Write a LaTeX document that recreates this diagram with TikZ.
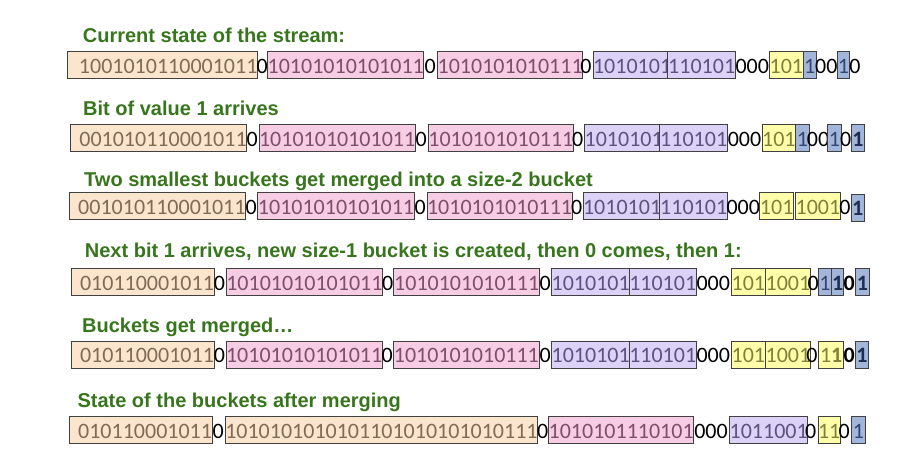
\documentclass[tikz,border=0pt]{standalone}
\usepackage{fontspec}
\newfontfamily\dgt{Carlito}
\newfontfamily\ttlf{Liberation Sans}
\definecolor{tanF}{HTML}{FCE5CD}
\definecolor{tanT}{HTML}{7F6B57}
\definecolor{pinkF}{HTML}{F7CDE4}
\definecolor{pinkT}{HTML}{7E4E6B}
\definecolor{purpF}{HTML}{DCD2F8}
\definecolor{purpT}{HTML}{5E5280}
\definecolor{yelF}{HTML}{FFFFAA}
\definecolor{yelT}{HTML}{80803A}
\definecolor{bluF}{HTML}{A2B5DB}
\definecolor{bluT}{HTML}{34466E}
\definecolor{bluD}{HTML}{1F2E4F}
\definecolor{ttlG}{HTML}{38761D}
\begin{document}
\begin{tikzpicture}[x=1pt,y=-1pt,
  bx/.style={draw=black!75, line width=0.75pt, minimum height=27pt, inner sep=0pt, anchor=west,
    font=\dgt\fontsize{22}{26}\selectfont, text height=16.5pt, text depth=0pt},
  tanb/.style={bx, fill=tanF, text=tanT},
  pinkb/.style={bx, fill=pinkF, text=pinkT},
  purpb/.style={bx, fill=purpF, text=purpT},
  yelb/.style={bx, fill=yelF, text=yelT},
  blub/.style={bx, fill=bluF, text=bluT},
  blubd/.style={bx, fill=bluF, text=bluD, font=\dgt\bfseries\fontsize{22}{26}\selectfont},
  sp/.style={inner sep=0pt, font=\dgt\fontsize{22}{26}\selectfont, text height=16.5pt, text depth=0pt, text=black},
  spb/.style={sp, font=\dgt\bfseries\fontsize{22}{26}\selectfont},
  ttl/.style={anchor=base west, inner sep=0pt, font=\ttlf\bfseries\fontsize{20}{24}\selectfont, text=ttlG}
]
\useasboundingbox[fill=white] (0,0) rectangle (916,468);

% ---------- Row 1
\node[ttl] (t1) at (82.7,43) {Current state of the stream:};
\node[tanb, minimum width=190pt] (r1a) at (67.3,65) {\hspace*{11pt}1001010110001011};
\node[sp] (r1s1) at (262.3,65) {0};
\node[pinkb, minimum width=156pt] (r1b) at (267.3,65) {10101010101011};
\node[sp] (r1s2) at (430.3,65) {0};
\node[pinkb, minimum width=142pt] (r1c) at (437.3,65) {1010101010111};
\node[sp] (r1s3) at (586,65) {0};
\node[purpb, minimum width=74.6pt] (r1d) at (592.7,65) {1010101};
\node[purpb, minimum width=68pt] (r1e) at (667.3,65) {110101};
\node[sp] (r1s4) at (752.3,65) {000};
\node[yelb, minimum width=33.4pt] (r1f) at (769.3,65) {101};
\node[blub, minimum width=13.3pt] (r1g) at (802.7,65) {1};
\node[sp] (r1s5) at (826.3,65) {00};
\node[blub, minimum width=12.6pt] (r1h) at (836.7,65) {1};
\node[sp] (r1s6) at (855,65) {0};

% ---------- Row 2
\node[ttl] (t2) at (83,116) {Bit of value 1 arrives};
\node[tanb, minimum width=176pt] (r2a) at (70,138) {\hspace*{9pt}001010110001011};
\node[sp] (r2s1) at (252.3,138) {0};
\node[pinkb, minimum width=156pt] (r2b) at (258.7,138) {10101010101011};
\node[sp] (r2s2) at (421.3,138) {0};
\node[pinkb, minimum width=143pt] (r2c) at (428,138) {1010101010111};
\node[sp] (r2s3) at (577.7,138) {0};
\node[purpb, minimum width=75pt] (r2d) at (584.3,138) {1010101};
\node[purpb, minimum width=68pt] (r2e) at (659.3,138) {110101};
\node[sp] (r2s4) at (744.5,138) {000};
\node[yelb, minimum width=33.6pt] (r2f) at (761.7,138) {101};
\node[blub, minimum width=13.4pt] (r2g) at (795.3,138) {1};
\node[sp] (r2s5) at (818,138) {00};
\node[blub, minimum width=13.4pt] (r2h) at (827.3,138) {1};
\node[sp] (r2s6) at (845.7,138) {0};
\node[blubd, minimum width=13.6pt] (r2i) at (850.7,138) {1};

% ---------- Row 3
\node[ttl] (t3) at (84,186) {Two smallest buckets get merged into a size-2 bucket};
\node[tanb, minimum width=176.6pt] (r3a) at (68.7,206) {\hspace*{9pt}001010110001011};
\node[sp] (r3s1) at (251.3,206) {0};
\node[pinkb, minimum width=156.7pt] (r3b) at (257.3,206) {10101010101011};
\node[sp] (r3s2) at (420.3,206) {0};
\node[pinkb, minimum width=144.3pt] (r3c) at (426.7,206) {1010101010111};
\node[sp] (r3s3) at (576.8,206) {0};
\node[purpb, minimum width=75.3pt] (r3d) at (582.7,206) {1010101};
\node[purpb, minimum width=68pt] (r3e) at (659.3,206) {110101};
\node[sp] (r3s4) at (743.3,206) {000};
\node[yelb, minimum width=34pt] (r3f) at (759.3,206) {101};
\node[yelb, minimum width=41.4pt] (r3g) at (795.3,206) {1001};
\node[sp] (r3s5) at (845,206) {0};
\node[blubd, minimum width=13.3pt] (r3h) at (850.7,207.5) {1};

% ---------- Row 4
\node[ttl] (t4) at (84.7,257) {Next bit 1 arrives, new size-1 bucket is created, then 0 comes, then 1:};
\node[tanb, minimum width=142.6pt] (r4a) at (70.7,282.3) {\hspace*{9pt}010110001011};
\node[sp] (r4s1) at (219.5,282.3) {0};
\node[pinkb, minimum width=156.6pt] (r4b) at (225.7,282.3) {10101010101011};
\node[sp] (r4s2) at (387.8,282.3) {0};
\node[pinkb, minimum width=146pt] (r4c) at (393.3,282.3) {1010101010111};
\node[sp] (r4s3) at (545.3,282.3) {0};
\node[purpb, minimum width=77.4pt] (r4d) at (551.3,282.3) {1010101};
\node[purpb, minimum width=67.3pt] (r4e) at (628.7,282.3) {110101};
\node[sp] (r4s4) at (713.3,282.3) {000};
\node[yelb, minimum width=34.6pt] (r4f) at (730.7,282.3) {101};
\node[yelb, minimum width=43.4pt] (r4g) at (765.3,282.3) {1001};
\node[sp] (r4s5) at (813.3,282.3) {0};
\node[blub, minimum width=13.3pt] (r4h) at (818,282.3) {1};
\node[blubd, minimum width=12pt] (r4i) at (831.3,282.3) {1};
\node[spb] (r4s6) at (849.2,282.3) {0};
\node[blubd, minimum width=14.3pt] (r4j) at (855,282.3) {1};

% ---------- Row 5
\node[ttl] (t5) at (82,332.7) {Buckets get merged\ldots};
\node[tanb, minimum width=142.6pt] (r5a) at (70.7,354.7) {\hspace*{9pt}010110001011};
\node[sp] (r5s1) at (219.5,354.7) {0};
\node[pinkb, minimum width=156pt] (r5b) at (225.7,354.7) {10101010101011};
\node[sp] (r5s2) at (387.2,354.7) {0};
\node[pinkb, minimum width=146.6pt] (r5c) at (392.7,354.7) {1010101010111};
\node[sp] (r5s3) at (545.3,354.7) {0};
\node[purpb, minimum width=77.4pt] (r5d) at (551.3,354.7) {1010101};
\node[purpb, minimum width=67.3pt] (r5e) at (628.7,354.7) {110101};
\node[sp] (r5s4) at (713.3,354.7) {000};
\node[yelb, minimum width=34.6pt] (r5f) at (730.7,354.7) {101};
\node[yelb, minimum width=40.7pt] (r5g) at (765.3,354.7) {1001};
\node[sp] (r5s5) at (812,354.7) {0};
\node[yelb, minimum width=25pt] (r5h) at (818.3,354.7) {1\textbf{1}};
\node[spb] (r5s6) at (849.2,354.7) {0};
\node[blubd, minimum width=13.3pt] (r5i) at (855,354.7) {1};

% ---------- Row 6
\node[ttl] (t6) at (77.3,407.7) {State of the buckets after merging};
\node[tanb, minimum width=143pt] (r6a) at (68.7,430) {\hspace*{9pt}010110001011};
\node[sp] (r6s1) at (218.2,430) {0};
\node[tanb, minimum width=312.6pt] (r6b) at (224.7,430) {1010101010101101010101010111};
\node[sp] (r6s2) at (542.8,430) {0};
\node[pinkb, minimum width=144.4pt] (r6c) at (548.3,430) {1010101110101};
\node[sp] (r6s3) at (711,430) {000};
\node[purpb, minimum width=74.7pt] (r6d) at (729.3,430) {1011001};
\node[sp] (r6s4) at (810.8,430) {0};
\node[yelb, minimum width=20pt] (r6e) at (817.7,430) {11};
\node[sp] (r6s5) at (844.3,430) {0};
\node[blub, minimum width=14pt] (r6f) at (851,430) {1};
\end{tikzpicture}
\end{document}
